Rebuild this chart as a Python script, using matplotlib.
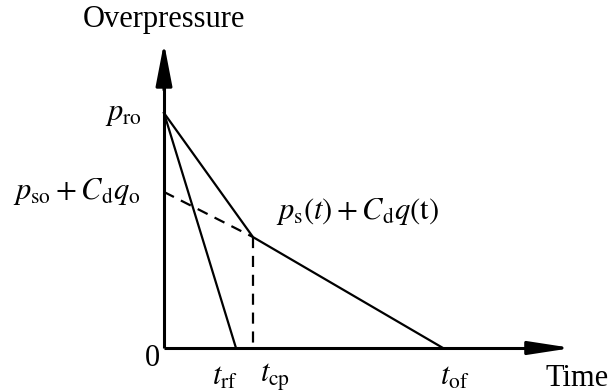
import matplotlib.pyplot as plt

plt.rcParams['font.family'] = ['Liberation Serif', 'DejaVu Serif']
plt.rcParams['mathtext.fontset'] = 'stix'

# characteristic times (normalised to t_of) and pressures (normalised to p_ro)
t_rf = 0.258
t_cp = 0.319
t_of = 1.0
p_ro = 1.0
p_so_cd = 0.664     # p_so + Cd*q_o at t = 0
p_cp = 0.472        # ps(t) + Cd*q(t) at t_cp

fig = plt.figure(figsize=(6.11, 3.92), dpi=100)
ax = fig.add_axes([0, 0, 1, 1])
ax.set_xlim(-164 / 279, 447 / 279)
ax.set_ylim(-44 / 235, 348 / 235)
ax.axis('off')

x_end = 1.462
y_end = 1.298

# axes with arrow heads
ax.plot([0, x_end - 0.05], [0, 0], color='black', lw=2.2, solid_capstyle='butt')
ax.plot([0, 0], [0, y_end - 0.05], color='black', lw=2.2, solid_capstyle='butt')
ax.annotate('', xy=(x_end, 0), xytext=(x_end - 0.15, 0),
            arrowprops=dict(arrowstyle='-|>,head_length=1.3,head_width=0.2',
                            mutation_scale=20, color='black', lw=2.2,
                            shrinkA=0, shrinkB=0))
ax.annotate('', xy=(0, y_end), xytext=(0, y_end - 0.2),
            arrowprops=dict(arrowstyle='-|>,head_length=1.3,head_width=0.25',
                            mutation_scale=20, color='black', lw=2.2,
                            shrinkA=0, shrinkB=0))

# reflected pressure decay
ax.plot([0, t_rf], [p_ro, 0], color='black', lw=1.6)
ax.plot([0, t_cp, t_of], [p_ro, p_cp, 0], color='black', lw=1.6)
# stagnation pressure and clearing time
ax.plot([0, t_cp], [p_so_cd, p_cp], color='black', lw=1.6, ls=(0, (5, 3.5)))
ax.plot([t_cp, t_cp], [p_cp, 0], color='black', lw=1.6, ls=(0, (5, 3.5)))

fs = 22
ax.text(0, 1.396, 'Overpressure', fontsize=fs, ha='center', va='center')
ax.annotate(r'$p_{\mathrm{ro}}$', xy=(0, p_ro), xytext=(-22, 0),
            textcoords='offset pixels', fontsize=fs, ha='right', va='center')
ax.annotate(r'$p_{\mathrm{so}} + C_{\mathrm{d}}q_{\mathrm{o}}$', xy=(0, p_so_cd),
            xytext=(-24, 0), textcoords='offset pixels', fontsize=fs,
            ha='right', va='center')
ax.annotate(r'$p_{\mathrm{s}}(t) + C_{\mathrm{d}}q(\mathrm{t})$', xy=(t_cp, p_cp),
            xytext=(23, 26), textcoords='offset pixels', fontsize=fs,
            ha='left', va='center')
ax.annotate('0', xy=(0, 0), xytext=(-12, -10), textcoords='offset pixels',
            fontsize=fs, ha='center', va='center')

tick_vals = [t_rf, t_cp, t_of]
tick_labels = [r'$t_{\mathrm{rf}}$', r'$t_{\mathrm{cp}}$', r'$t_{\mathrm{of}}$']
tick_shift = [-11, 22, 12]
for v, lab, dx in zip(tick_vals, tick_labels, tick_shift):
    ax.annotate(lab, xy=(v, 0), xytext=(dx, -29), textcoords='offset pixels',
                fontsize=fs, ha='center', va='center')
ax.annotate('Time', xy=(x_end, 0), xytext=(5, -31), textcoords='offset pixels',
            fontsize=fs, ha='center', va='center')

fig.savefig('out.png', dpi=100)
